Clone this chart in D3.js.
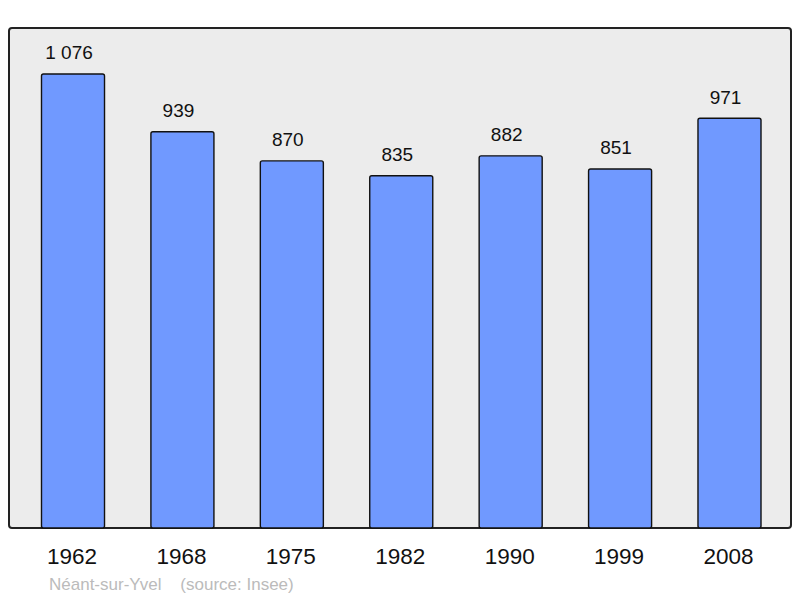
<!DOCTYPE html>
<html><head><meta charset="utf-8">
<script src="https://cdn.jsdelivr.net/npm/d3@7"></script>
<style>body{margin:0;background:#fff}svg{display:block}</style>
</head><body>
<script>
const years = ["1962","1968","1975","1982","1990","1999","2008"];
const population = [1076, 939, 870, 835, 882, 851, 971];
const valueLabels = ["1 076","939","870","835","882","851","971"];
const caption = "Néant-sur-Yvel    (source: Insee)";

const W = 800, H = 598;
const plot = {x0: 9, x1: 791, y0: 28, y1: 528};
const svg = d3.select("body").append("svg").attr("width", W).attr("height", H);

svg.append("rect").attr("x", plot.x0).attr("y", plot.y0)
  .attr("width", plot.x1 - plot.x0).attr("height", plot.y1 - plot.y0)
  .attr("rx", 3).attr("fill", "#ececec").attr("stroke", "#222").attr("stroke-width", 2);

const x = d3.scaleBand().domain(years).range([18.3, 784.2]).paddingInner(0.424).paddingOuter(0.212);
const y = d3.scaleLinear().domain([0, 1185]).range([plot.y1, plot.y0]);

const g = svg.append("g");
g.selectAll("rect.bar").data(years).join("rect").attr("class","bar")
  .attr("x", d => x(d)).attr("width", x.bandwidth())
  .attr("y", (d,i) => y(population[i])).attr("height", (d,i) => plot.y1 - y(population[i]))
  .attr("rx", 2).attr("fill", "#7099ff").attr("stroke", "#111").attr("stroke-width", 1.4);

g.selectAll("text.val").data(years).join("text").attr("class","val")
  .attr("x", d => x(d) + x.bandwidth()/2 - 4).attr("y", (d,i) => y(population[i]) - 14.5)
  .attr("text-anchor","middle").attr("font-family","Liberation Sans, Arial, sans-serif")
  .attr("font-size", 19).attr("fill","#111").text((d,i) => valueLabels[i]);

const xAxis = svg.append("g").attr("transform", `translate(0,${plot.y1})`)
  .call(d3.axisBottom(x).tickSize(0).tickPadding(20));
xAxis.select(".domain").remove();
xAxis.selectAll("text").attr("font-family","Liberation Sans, Arial, sans-serif")
  .attr("font-size", 22.5).attr("fill","#111").attr("dx", -1);

svg.append("text").attr("x", 49).attr("y", 590)
  .attr("font-family","Liberation Sans, Arial, sans-serif").attr("font-size", 17)
  .attr("fill","#bbb").attr("xml:space","preserve").style("white-space","pre").text(caption);
</script>
</body></html>
